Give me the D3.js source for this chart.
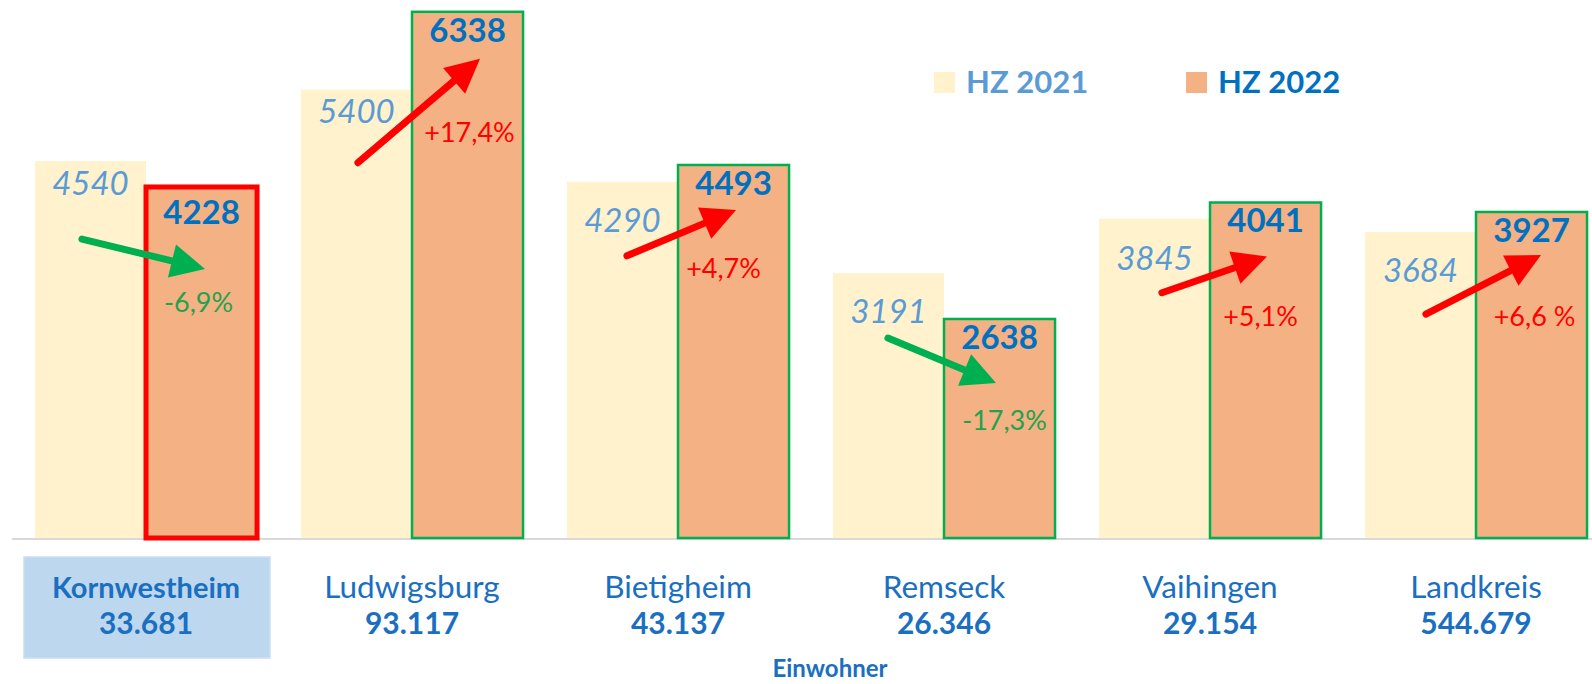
<!DOCTYPE html>
<html>
<head>
<meta charset="utf-8">
<script src="https://cdn.jsdelivr.net/npm/d3@7"></script>
<style>
  body { margin: 0; background: #fff; }
  svg { display: block; font-family: Lato, "Open Sans", sans-serif; }
</style>
</head>
<body>
<svg id="chart"></svg>
<script>
// Data
const cities = ["Kornwestheim", "Ludwigsburg", "Bietigheim", "Remseck", "Vaihingen", "Landkreis"];
const population = ["33.681", "93.117", "43.137", "26.346", "29.154", "544.679"];
const hz2021 = [4540, 5400, 4290, 3191, 3845, 3684];
const hz2022 = [4228, 6338, 4493, 2638, 4041, 3927];
const changeLabels = ["-6,9%", "+17,4%", "+4,7%", "-17,3%", "+5,1%", "+6,6 %"];
const seriesNames = ["HZ 2021", "HZ 2022"];

// Manual annotation placement (px offsets from bar tops / bar edges)
const label2021Offset = [34, 33, 50, 50, 51, 50];
const pctOffset = [[-3, 125], [2, 130], [-10, 113], [5, 111], [-5, 124], [3, 114]];
const arrowLayout = [
  [47, 78, 59, 82],
  [57, 73, 68, 47],
  [60, 74, 58, 45],
  [55, 65, 52, 64],
  [63, 74, 57, 54],
  [61, 82, 65, 43]
];

const width = 1592, height = 684;
const baseline = 538;

const svg = d3.select("#chart").attr("width", width).attr("height", height);

const x0 = d3.scaleBand().domain(cities).range([13, 1609]).paddingInner(0.165).paddingOuter(0.0825);
const x1 = d3.scaleBand().domain(seriesNames).range([0, x0.bandwidth()]);
const y = d3.scaleLinear().domain([0, 6480]).range([baseline, 0]);

const red = "#ff0000", green = "#00b050";

// axis line
svg.append("line")
  .attr("x1", 12).attr("x2", width).attr("y1", baseline + 1).attr("y2", baseline + 1)
  .attr("stroke", "#d9d9d9").attr("stroke-width", 2);

const groups = svg.selectAll("g.group")
  .data(cities)
  .enter().append("g")
  .attr("class", "group")
  .attr("transform", d => `translate(${x0(d)},0)`);

// 2021 bars
groups.append("rect")
  .attr("x", x1("HZ 2021"))
  .attr("width", x1.bandwidth())
  .attr("y", (d, i) => y(hz2021[i]))
  .attr("height", (d, i) => baseline - y(hz2021[i]))
  .attr("fill", "#fff2cc");

// 2022 bars
groups.append("rect")
  .attr("x", x1("HZ 2022"))
  .attr("width", x1.bandwidth())
  .attr("y", (d, i) => y(hz2022[i]))
  .attr("height", (d, i) => baseline - y(hz2022[i]))
  .attr("fill", "#f4b183")
  .attr("stroke", (d, i) => i === 0 ? red : green)
  .attr("stroke-width", (d, i) => i === 0 ? 5 : 2.5);

// value labels
groups.append("text")
  .attr("x", x1("HZ 2021") + x1.bandwidth() / 2)
  .attr("y", (d, i) => y(hz2021[i]) + label2021Offset[i])
  .attr("text-anchor", "middle")
  .style("font-size", "33px")
  .style("font-style", "italic")
  .attr("fill", "#5b9bd5")
  .text((d, i) => hz2021[i]);

groups.append("text")
  .attr("x", x1("HZ 2022") + x1.bandwidth() / 2)
  .attr("y", (d, i) => y(hz2022[i]) + (i === 0 ? 37 : 30))
  .attr("text-anchor", "middle")
  .style("font-size", "33px")
  .style("font-weight", "bold")
  .attr("fill", "#0070c0")
  .text((d, i) => hz2022[i]);

// percent change labels
groups.append("text")
  .attr("x", (d, i) => x1("HZ 2022") + x1.bandwidth() / 2 + pctOffset[i][0])
  .attr("y", (d, i) => y(hz2022[i]) + pctOffset[i][1])
  .attr("text-anchor", "middle")
  .style("font-size", "27px")
  .attr("fill", (d, i) => hz2022[i] >= hz2021[i] ? red : "#23a24d")
  .text((d, i) => changeLabels[i]);

// arrows
groups.each(function(d, i) {
  const g = d3.select(this);
  const a = arrowLayout[i];
  const sx = x1("HZ 2021") + a[0], sy = y(hz2021[i]) + a[1];
  const ex = x1("HZ 2022") + a[2], ey = y(hz2022[i]) + a[3];
  const col = hz2022[i] >= hz2021[i] ? red : green;
  const ang = Math.atan2(ey - sy, ex - sx);
  const headLen = 34, headW = 17;
  const bx = ex - headLen * Math.cos(ang), by = ey - headLen * Math.sin(ang);
  g.append("line")
    .attr("x1", sx).attr("y1", sy)
    .attr("x2", bx + 2 * Math.cos(ang)).attr("y2", by + 2 * Math.sin(ang))
    .attr("stroke", col).attr("stroke-width", 7).attr("stroke-linecap", "round");
  const nx = -Math.sin(ang), ny = Math.cos(ang);
  g.append("path")
    .attr("d", `M${ex},${ey}L${bx + nx * headW},${by + ny * headW}L${bx - nx * headW},${by - ny * headW}Z`)
    .attr("fill", col);
});

// category labels
svg.append("rect")
  .attr("x", 24).attr("y", 557).attr("width", 246).attr("height", 101)
  .attr("fill", "#bdd7ee").attr("stroke", "#c9def2").attr("stroke-width", 1.5);

const labels = svg.selectAll("g.cat")
  .data(cities)
  .enter().append("g")
  .attr("class", "cat")
  .attr("transform", d => `translate(${x0(d) + x0.bandwidth() / 2},0)`);

labels.append("text")
  .attr("y", 598)
  .attr("text-anchor", "middle")
  .style("font-size", (d, i) => i === 0 ? "29px" : "31.5px")
  .style("font-weight", (d, i) => i === 0 ? "bold" : "normal")
  .attr("fill", "#1a6fc0")
  .text(d => d);

labels.append("text")
  .attr("y", 634)
  .attr("text-anchor", "middle")
  .style("font-size", "30px")
  .style("font-weight", "bold")
  .attr("fill", "#1a6fc0")
  .text((d, i) => population[i]);

svg.append("text")
  .attr("x", 830).attr("y", 677)
  .attr("text-anchor", "middle")
  .style("font-size", "24px")
  .style("font-weight", "bold")
  .attr("fill", "#1a6fc0")
  .text("Einwohner");

// legend
const legendX = [934, 1186];
const legendFill = ["#fff2cc", "#f4b183"];
const legendText = ["#5b9bd5", "#0070c0"];
const legend = svg.selectAll("g.legend")
  .data(seriesNames)
  .enter().append("g")
  .attr("class", "legend")
  .attr("transform", (d, i) => `translate(${legendX[i]},0)`);
legend.append("rect")
  .attr("x", 0).attr("y", 72).attr("width", 21).attr("height", 21)
  .attr("fill", (d, i) => legendFill[i]);
legend.append("text")
  .attr("x", 32).attr("y", 93)
  .style("font-size", "31px")
  .style("font-weight", "bold")
  .attr("fill", (d, i) => legendText[i])
  .text(d => d);
</script>
</body>
</html>
